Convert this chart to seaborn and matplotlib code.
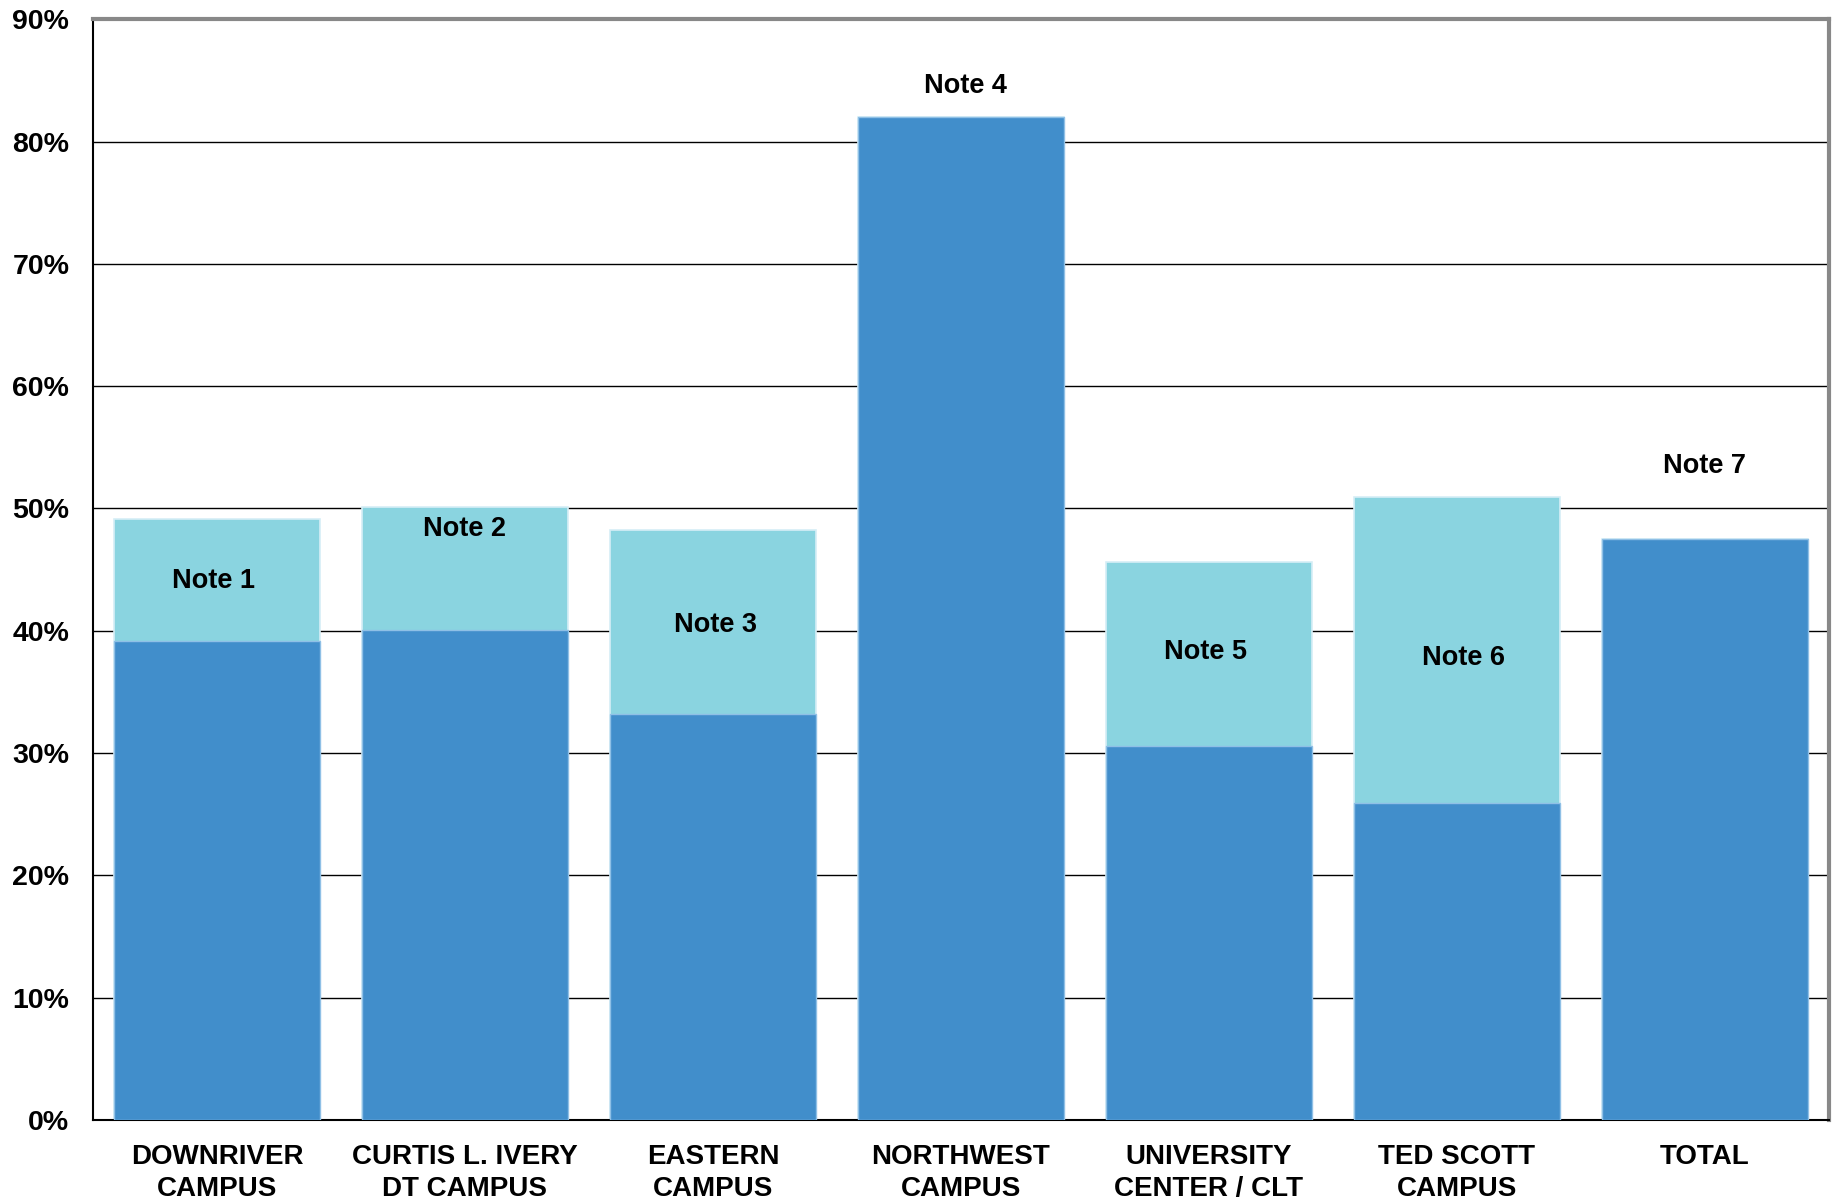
import numpy as np
import pandas as pd
import seaborn as sns
import matplotlib.pyplot as plt
from matplotlib.ticker import MultipleLocator, FixedLocator, PercentFormatter

# Chart data
campuses = ["DOWNRIVER\nCAMPUS", "CURTIS L. IVERY\nDT CAMPUS", "EASTERN\nCAMPUS",
            "NORTHWEST\nCAMPUS", "UNIVERSITY\nCENTER / CLT", "TED SCOTT\nCAMPUS", "TOTAL"]
base_pct = [39.2, 40.1, 33.2, 82.0, 30.6, 25.9, 47.5]
extra_pct = [9.9, 10.0, 15.0, 0.0, 15.0, 25.0, 0.0]
notes = ["Note 1", "Note 2", "Note 3", "Note 4", "Note 5", "Note 6", "Note 7"]
note_y = [44.1, 48.3, 40.5, 84.5, 38.3, 37.8, 53.5]
note_dx = [-0.015, 0.0, 0.01, 0.02, -0.015, 0.025, 0.0]

DARK = "#418ECB"
LIGHT = "#8AD4E0"

sns.set_style("white")
plt.rcParams['font.family'] = ['Liberation Sans', 'DejaVu Sans']
plt.rcParams['text.color'] = 'black'
plt.rcParams['xtick.color'] = 'black'
plt.rcParams['ytick.color'] = 'black'

df = pd.DataFrame({"campus": campuses, "base": base_pct, "extra": extra_pct})
df["top"] = df["base"] + df["extra"]

fig = plt.figure(figsize=(18.37, 12.0), dpi=100)
ax = fig.add_axes([0.0506, 0.0667, 0.945, 0.9173])

# light segment = stacked total, dark segment drawn over it
sns.barplot(data=df, x="campus", y="top", color=LIGHT, saturation=1, width=0.83,
            edgecolor="#D6EEF6", linewidth=1.2, ax=ax, zorder=2)
sns.barplot(data=df, x="campus", y="base", color=DARK, saturation=1, width=0.83,
            edgecolor="#8FC0E6", linewidth=1.0, ax=ax, zorder=3)

for i, (txt, y, dx) in enumerate(zip(notes, note_y, note_dx)):
    ax.text(i + dx, y, txt, ha="center", va="center", fontsize=19.5,
            fontweight="bold", color="black", zorder=5)

ax.set_ylim(0, 90)
ax.set_xlim(-0.5, len(campuses) - 0.5)
ax.yaxis.set_major_locator(MultipleLocator(10))
ax.yaxis.set_major_formatter(PercentFormatter(decimals=0))
ax.yaxis.grid(True, color="black", linewidth=1.0, zorder=0)
ax.set_axisbelow(True)
ax.set_xlabel("")
ax.set_ylabel("")

# ticks between categories on x axis
ax.xaxis.set_minor_locator(FixedLocator(np.arange(-0.5, len(campuses), 1.0)))
ax.tick_params(axis="x", which="major", length=0, pad=17)
ax.tick_params(axis="x", which="minor", length=9, width=1.2, color="black", direction="out")
ax.tick_params(axis="y", which="major", length=8, width=1.2, color="black",
               direction="out", labelsize=20.5, pad=9)
for lab in ax.get_yticklabels():
    lab.set_fontweight("bold")
    lab.set_color("black")
for lab in ax.get_xticklabels():
    lab.set_fontweight("bold")
    lab.set_fontsize(20)
    lab.set_color("black")
    lab.set_linespacing(1.3)

for side in ["left", "bottom"]:
    ax.spines[side].set_color("black")
    ax.spines[side].set_linewidth(1.5)
for side in ["top", "right"]:
    ax.spines[side].set_color("#888888")
    ax.spines[side].set_linewidth(3)
    ax.spines[side].set_visible(True)

fig.savefig("out.png", dpi=100)
